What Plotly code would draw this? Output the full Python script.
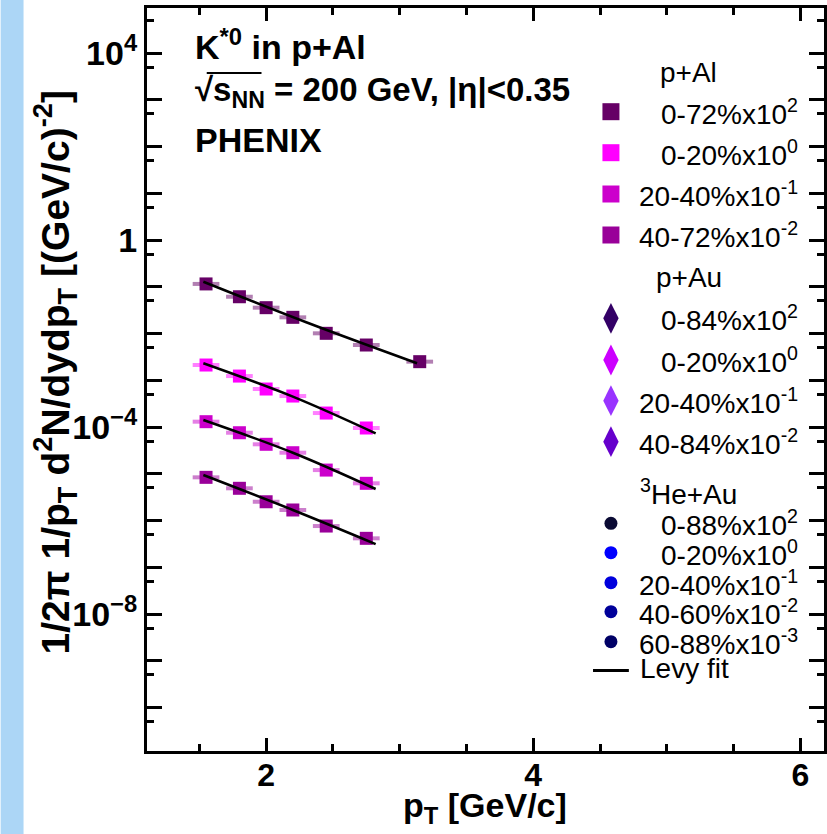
import plotly.graph_objects as go

FONT = "Liberation Sans"

# pT bin centres [GeV/c] and half-width of the systematic boxes
pt = [1.55, 1.80, 2.00, 2.20, 2.45, 2.75, 3.15]
pt_box_half = 0.1

# K*0 invariant yields 1/2pi 1/pT d2N/dydpT [(GeV/c)^-2] in p+Al, unscaled
yield_pal_0_72 = [1.15e-3, 6.12e-4, 3.57e-4, 2.22e-4, 1.01e-4, 5.68e-5, 2.50e-5]
yield_pal_0_20 = [2.12e-3, 1.23e-3, 6.50e-4, 4.60e-4, 1.99e-4, 9.53e-5]
yield_pal_20_40 = [1.30e-3, 7.55e-4, 4.27e-4, 2.82e-4, 1.20e-4, 6.25e-5]
yield_pal_40_72 = [8.39e-4, 4.89e-4, 2.52e-4, 1.68e-4, 7.62e-5, 4.16e-5]

# scale factors applied for display
scale_pal = [1e2, 1e0, 1e-1, 1e-2]

# Levy fit curves, sampled (unscaled)
fit_pt_0_72 = [1.53, 2.30, 3.13]
fit_pal_0_72 = [1.28e-3, 1.74e-4, 2.31e-5]
fit_pt_cent = [1.53, 2.20, 2.82]
fit_pal_0_20 = [2.31e-3, 4.47e-4, 7.33e-5]
fit_pal_20_40 = [1.41e-3, 2.82e-4, 4.72e-5]
fit_pal_40_72 = [9.40e-4, 1.68e-4, 3.14e-5]

# y-axis decades and labels
y_decades = [10.0 ** k for k in range(-10, 5)]
y_labels = {4: "10<sup>4</sup>", 0: "1", -4: "10<sup>\u22124</sup>", -8: "10<sup>\u22128</sup>"}

# legend content
legend_pal = ["0-72%x10<sup>2</sup>", "0-20%x10<sup>0</sup>", "20-40%x10<sup>-1</sup>", "40-72%x10<sup>-2</sup>"]
legend_pau = ["0-84%x10<sup>2</sup>", "0-20%x10<sup>0</sup>", "20-40%x10<sup>-1</sup>", "40-84%x10<sup>-2</sup>"]
legend_heau = ["0-88%x10<sup>2</sup>", "0-20%x10<sup>0</sup>", "20-40%x10<sup>-1</sup>",
               "40-60%x10<sup>-2</sup>", "60-88%x10<sup>-3</sup>"]

col_pal = ["#660066", "#ff00ff", "#cc00cc", "#990099"]
col_pau = ["#330066", "#cc00ff", "#9933ff", "#6600cc"]
col_heau = ["#0a0a33", "#0000ff", "#0000dd", "#00009a", "#000066"]

W, H = 827, 834
ML, MR, MT, MB = 147, 0, 8, 83
PW, PH = W - ML - MR, H - MT - MB


def px(X):
    return (X - ML) / PW


def py(Y):
    return (H - MB - Y) / PH


def rgba(hexcol, a):
    h = hexcol.lstrip("#")
    r, g, b = int(h[0:2], 16), int(h[2:4], 16), int(h[4:6], 16)
    return f"rgba({r},{g},{b},{a})"


fig = go.Figure()

series = [
    (yield_pal_0_72, scale_pal[0], col_pal[0], fit_pt_0_72, fit_pal_0_72),
    (yield_pal_0_20, scale_pal[1], col_pal[1], fit_pt_cent, fit_pal_0_20),
    (yield_pal_20_40, scale_pal[2], col_pal[2], fit_pt_cent, fit_pal_20_40),
    (yield_pal_40_72, scale_pal[3], col_pal[3], fit_pt_cent, fit_pal_40_72),
]

for vals, sc, col, fx, fy in series:
    xs = pt[: len(vals)]
    ys = [v * sc for v in vals]
    # systematic boxes
    fig.add_trace(go.Scatter(
        x=xs, y=ys, mode="markers",
        marker=dict(size=1, color="rgba(0,0,0,0)"),
        error_x=dict(type="constant", value=pt_box_half, thickness=4, width=0,
                     color=rgba(col, 0.5)),
        hoverinfo="skip"))
    fig.add_trace(go.Scatter(
        x=xs, y=ys, mode="markers",
        marker=dict(symbol="square", size=13, color=col, line=dict(width=0))))
    fig.add_trace(go.Scatter(
        x=fx, y=[v * sc for v in fy], mode="lines",
        line=dict(color="black", width=2.5, shape="spline")))

# ---- legend drawn on an overlay axis in plot-fraction units ----
annotations = []
leg_font = dict(family=FONT, size=28, color="black")


def legend_block(title, title_y, labels, colors, ys, symbol, msize):
    annotations.append(dict(x=px(691), y=py(title_y), text=title, showarrow=False,
                            xref="paper", yref="paper", xanchor="center", yanchor="middle",
                            font=leg_font))
    fig.add_trace(go.Scatter(
        x=[px(613)] * len(ys), y=[py(v) for v in ys], xaxis="x2", yaxis="y2",
        mode="markers", marker=dict(symbol=symbol, size=msize, color=colors, line=dict(width=0)),
        cliponaxis=False))
    for lab, yv in zip(labels, ys):
        annotations.append(dict(x=px(803), y=py(yv), text=lab, showarrow=False,
                                xref="paper", yref="paper", xanchor="right", yanchor="middle",
                                font=leg_font))


legend_block("p+Al", 72, legend_pal, col_pal, [111.7, 152.7, 194, 235], "square", 17)
legend_block("p+Au", 277, legend_pau, col_pau, [318.3, 360, 400.7, 441.7], "diamond-tall", 22)
legend_block("<sup>3</sup>He+Au", 492, legend_heau, col_heau,
             [523.3, 552.7, 582.7, 611.7, 641.7], "circle", 13)

# Levy fit legend line
fig.add_trace(go.Scatter(x=[px(595), px(631)], y=[py(670.5)] * 2, xaxis="x2", yaxis="y2",
                         mode="lines", line=dict(color="black", width=3), cliponaxis=False))
annotations.append(dict(x=px(640), y=py(668), text="Levy fit", showarrow=False,
                        xref="paper", yref="paper", xanchor="left", yanchor="middle",
                        font=leg_font))

# ---- header text ----
bold = dict(family=FONT, size=34, color="black", weight="bold")
annotations += [
    dict(x=px(193), y=py(44), text="K<sup>*0</sup> in p+Al", xanchor="left", yanchor="middle"),
    dict(x=px(193), y=py(92), text="\u221as<sub>NN</sub> = 200 GeV, |\u03b7|<0.35",
         xanchor="left", yanchor="middle"),
    dict(x=px(193), y=py(140), text="PHENIX", xanchor="left", yanchor="middle"),
]
for a in annotations[-3:]:
    a.update(showarrow=False, xref="paper", yref="paper", font=bold)
annotations[-2]["font"] = dict(family=FONT, size=33, color="black", weight="bold")

# axis titles
annotations.append(dict(x=px(486), y=py(807), text="p<sub>T</sub> [GeV/c]", showarrow=False,
                        xref="paper", yref="paper", xanchor="center", yanchor="middle",
                        font=dict(family=FONT, size=34, color="black", weight="bold")))
annotations.append(dict(x=px(55), y=py(372),
                        text="1/2\u03c0 1/p<sub>T</sub> d<sup>2</sup>N/dydp<sub>T</sub> [(GeV/c)<sup>-2</sup>]",
                        showarrow=False, textangle=-90, xref="paper", yref="paper",
                        xanchor="center", yanchor="middle",
                        font=dict(family=FONT, size=39, color="black", weight="bold")))

shapes = [
    # light strip along the left edge of the page
    dict(type="rect", xref="paper", yref="paper", x0=px(0), x1=px(23), y0=py(H), y1=py(0),
         fillcolor="#acd6f6", line=dict(width=0), layer="below"),
    # radical bar over s_NN
    dict(type="line", xref="paper", yref="paper", x0=px(207), x1=px(262), y0=py(73), y1=py(73),
         line=dict(color="black", width=2)),
]

fig.update_layout(
    width=W, height=H, margin=dict(l=ML, r=MR, t=MT, b=MB),
    paper_bgcolor="white", plot_bgcolor="white", showlegend=False,
    annotations=annotations, shapes=shapes,
    xaxis=dict(range=[1.108, 6.177], tickvals=[2, 4, 6], ticktext=["2", "4", "6"],
               ticks="inside", ticklen=13, tickwidth=3, tickcolor="black",
               showline=True, linewidth=3, linecolor="black", mirror="ticks",
               showgrid=False, zeroline=False, ticklabelstandoff=-6,
               tickfont=dict(family=FONT, size=32, color="black", weight="bold"),
               minor=dict(dtick=0.5, tick0=0, ticks="inside", ticklen=7, tickwidth=3,
                          tickcolor="black", showgrid=False)),
    yaxis=dict(type="log", range=[-10.93, 4.963], tickvals=y_decades,
               ticktext=[y_labels.get(k, "") for k in range(-10, 5)],
               ticks="inside", ticklen=15, tickwidth=3, tickcolor="black",
               showline=True, linewidth=3, linecolor="black", mirror="ticks",
               showgrid=False, zeroline=False,
               tickfont=dict(family=FONT, size=34, color="black", weight="bold"),
               minor=dict(tickvals=[5 * 10.0 ** k for k in range(-11, 5)], ticks="inside",
                          ticklen=7, tickwidth=3, tickcolor="black", showgrid=False)),
    xaxis2=dict(overlaying="x", range=[0, 1], visible=False),
    yaxis2=dict(overlaying="y", range=[0, 1], visible=False),
)

fig.write_html("out.html")
